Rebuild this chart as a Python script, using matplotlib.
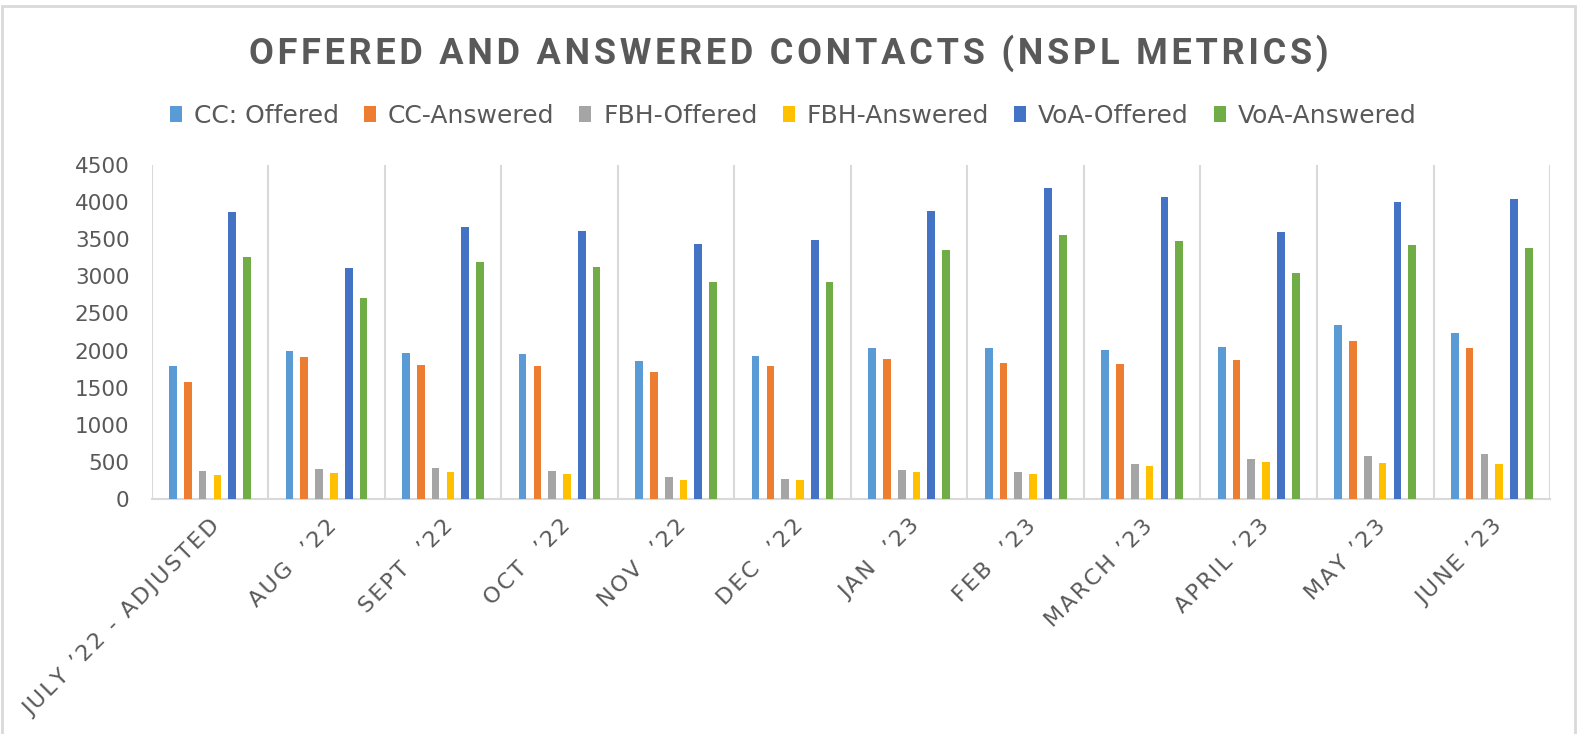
import matplotlib.pyplot as plt
import numpy as np
from matplotlib.patches import Rectangle

months = [
    "JULY \u201922 - ADJUSTED", "AUG  \u201922", "SEPT  \u201922", "OCT  \u201922",
    "NOV  \u201922", "DEC  \u201922", "JAN  \u201923", "FEB  \u201923",
    "MARCH \u201923", "APRIL \u201923", "MAY \u201923", "JUNE \u201923",
]

cc_offered = [1795, 2000, 1965, 1956, 1857, 1929, 2028, 2037, 2010, 2046, 2343, 2235]
cc_answered = [1575, 1911, 1808, 1785, 1709, 1785, 1880, 1830, 1817, 1866, 2131, 2033]
fbh_offered = [382, 409, 418, 378, 297, 274, 396, 360, 472, 540, 580, 607]
fbh_answered = [324, 351, 368, 333, 256, 252, 364, 337, 445, 499, 486, 472]
voa_offered = [3868, 3116, 3669, 3606, 3431, 3485, 3885, 4195, 4074, 3593, 4002, 4043]
voa_answered = [3260, 2711, 3193, 3125, 2927, 2923, 3359, 3561, 3480, 3044, 3426, 3377]

series = [
    ("CC: Offered", cc_offered, "#5B9BD5"),
    ("CC-Answered", cc_answered, "#ED7D31"),
    ("FBH-Offered", fbh_offered, "#A5A5A5"),
    ("FBH-Answered", fbh_answered, "#FFC000"),
    ("VoA-Offered", voa_offered, "#4472C4"),
    ("VoA-Answered", voa_answered, "#70AD47"),
]

title = "OFFERED AND ANSWERED CONTACTS (NSPL METRICS)"

text_color = "#595959"
grid_color = "#D9D9D9"
HAIR = "\u200a"


def spaced(s):
    # crude letter spacing with hair spaces
    return HAIR.join(s)


plt.rcParams["font.family"] = ["DejaVu Sans"]

fig = plt.figure(figsize=(15.77, 7.34), dpi=100)
ax = fig.add_axes([0.0962, 0.3202, 0.8867, 0.4550])

x = np.arange(len(months))
step = 0.127
width = 0.066

for k, (name, values, color) in enumerate(series):
    ax.bar(x + (k - 2.5) * step, values, width=width, color=color,
           label=name, zorder=3)

# category separators (vertical gridlines)
for b in np.arange(-0.5, len(months), 1.0):
    ax.axvline(b, color=grid_color, linewidth=1.5, zorder=1)

ax.set_xlim(-0.5, len(months) - 0.5)
ax.set_ylim(0, 4500)
ax.set_yticks(range(0, 4501, 500))

for side in ["top", "right", "left"]:
    ax.spines[side].set_visible(False)
ax.spines["bottom"].set_color(grid_color)
ax.spines["bottom"].set_linewidth(1.5)

ax.tick_params(axis="y", length=0, labelsize=15.5, labelcolor=text_color, pad=16)
ax.tick_params(axis="x", length=0, pad=12)
ax.set_xticks(x)
ax.set_xticklabels([spaced(m) for m in months], rotation=45, ha="right",
                   rotation_mode="anchor", fontsize=16, color=text_color)

fig.text(0.5, 0.9125, spaced(title), ha="center", va="baseline",
         fontsize=26, fontweight="bold", color=text_color,
         family=["Roboto", "DejaVu Sans"])

handles, labels = ax.get_legend_handles_labels()
fig.legend(handles, labels, loc="center", bbox_to_anchor=(0.503, 0.842),
           ncol=6, frameon=False, fontsize=18, labelcolor=text_color,
           handlelength=0.48, handleheight=0.6, handletextpad=0.48,
           columnspacing=1.0)

# chart border
fig.patches.append(Rectangle((2 / 1577, -0.05), 1 - 4 / 1577, 1.05 - 6 / 734,
                             transform=fig.transFigure, fill=False,
                             edgecolor=grid_color, linewidth=2))

fig.savefig("out.png", dpi=100)
